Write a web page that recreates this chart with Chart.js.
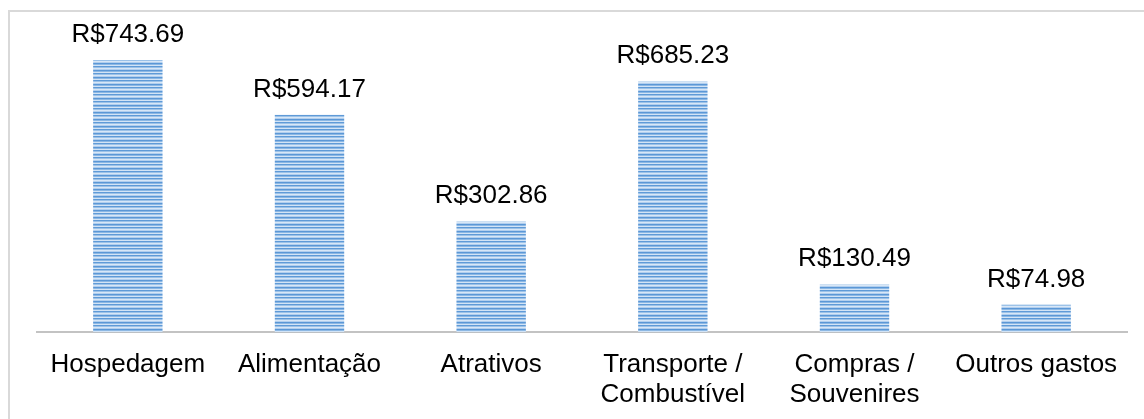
<!DOCTYPE html>
<html>
<head>
<meta charset="utf-8">
<script src="https://cdn.jsdelivr.net/npm/chart.js@4/dist/chart.umd.min.js"></script>
<style>
  html, body { margin: 0; padding: 0; background: #fff; overflow: hidden; }
  #wrap { position: relative; width: 1144px; height: 419px; overflow: hidden; }
  #frame { position: absolute; left: 8px; top: 10px; width: 1300px; height: 600px; border-top: 2px solid #d9d9d9; border-left: 2px solid #d9d9d9; box-sizing: border-box; }
  canvas { position: absolute; left: 0; top: 0; }
</style>
</head>
<body>
<div id="wrap">
  <div id="frame"></div>
  <canvas id="c" width="1144" height="438"></canvas>
</div>
<script>
const categories = [["Hospedagem"], ["Alimentação"], ["Atrativos"], ["Transporte /", "Combustível"], ["Compras /", "Souvenires"], ["Outros gastos"]];
const values = [743.69, 594.17, 302.86, 685.23, 130.49, 74.98];
const valueLabels = ["R$743.69", "R$594.17", "R$302.86", "R$685.23", "R$130.49", "R$74.98"];

function stripePattern() {
  const p = document.createElement('canvas');
  p.width = 8; p.height = 7;
  const g = p.getContext('2d');
  const rows = ['#5b97d6', '#8cb8e4', '#d3e4f6', '#5f9ad7', '#9cc2e8', '#d8e7f7', '#b2cfee'];
  rows.forEach((c, i) => { g.fillStyle = c; g.fillRect(0, i, 8, 1); });
  return g.createPattern(p, 'repeat');
}

const valueLabelPlugin = {
  id: 'valueLabels',
  afterDatasetsDraw(chart) {
    const ctx = chart.ctx;
    const meta = chart.getDatasetMeta(0);
    ctx.save();
    ctx.font = '26px "Liberation Sans", Arial, sans-serif';
    ctx.fillStyle = '#000';
    ctx.textAlign = 'center';
    ctx.textBaseline = 'alphabetic';
    meta.data.forEach((bar, i) => {
      ctx.fillText(valueLabels[i], bar.x, bar.y - 18);
    });
    ctx.restore();
  }
};

const ctx = document.getElementById('c').getContext('2d');
new Chart(ctx, {
  type: 'bar',
  data: {
    labels: categories,
    datasets: [{
      data: values,
      backgroundColor: stripePattern(),
      borderWidth: 0,
      categoryPercentage: 1,
      barPercentage: 0.382
    }]
  },
  options: {
    responsive: false,
    animation: false,
    layout: { padding: { left: 37, right: 17, top: 39.5, bottom: 10 } },
    plugins: { legend: { display: false }, tooltip: { enabled: false } },
    scales: {
      y: { display: false, min: 0, max: 800 },
      x: {
        grid: { display: false, drawTicks: false },
        border: { display: true, color: '#c3c3c3', width: 2 },
        ticks: {
          color: '#000',
          padding: 18,
          maxRotation: 0,
          autoSkip: false,
          font: { family: '"Liberation Sans", Arial, sans-serif', size: 26, lineHeight: 1.15 }
        }
      }
    }
  },
  plugins: [valueLabelPlugin]
});
</script>
</body>
</html>
